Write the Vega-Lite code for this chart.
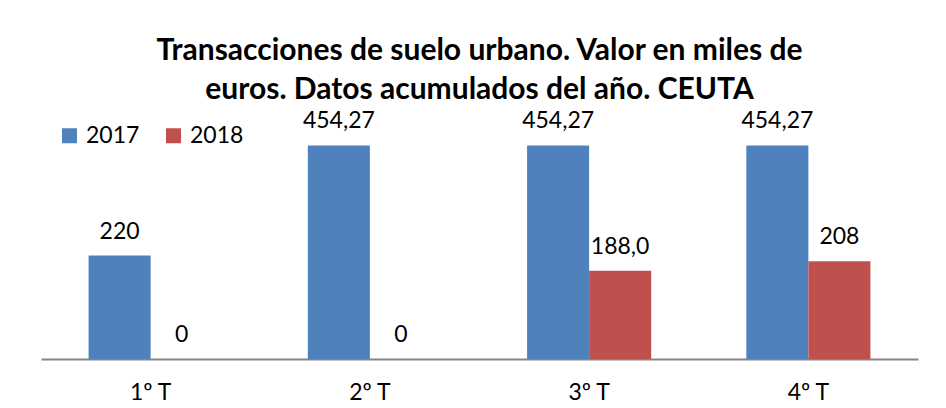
{
  "$schema": "https://vega.github.io/schema/vega-lite/v6.json",
  "autosize": "none",
  "width": 877,
  "height": 235,
  "padding": {"left": 41, "top": 124, "right": 28, "bottom": 49},
  "background": "white",
  "title": {
    "text": ["Transacciones de suelo urbano. Valor en miles de", "euros. Datos acumulados del año. CEUTA"],
    "font": "Lato",
    "fontSize": 30,
    "fontWeight": "bold",
    "lineHeight": 39,
    "color": "black",
    "anchor": "middle",
    "offset": 5
  },
  "data": {
    "values": [
      {"q": "1º T", "year": "2017", "value": 220, "label": "220"},
      {"q": "1º T", "year": "2018", "value": 0, "label": "0"},
      {"q": "2º T", "year": "2017", "value": 454.27, "label": "454,27"},
      {"q": "2º T", "year": "2018", "value": 0, "label": "0"},
      {"q": "3º T", "year": "2017", "value": 454.27, "label": "454,27"},
      {"q": "3º T", "year": "2018", "value": 188.0, "label": "188,0"},
      {"q": "4º T", "year": "2017", "value": 454.27, "label": "454,27"},
      {"q": "4º T", "year": "2018", "value": 208, "label": "208"}
    ]
  },
  "encoding": {
    "x": {
      "field": "q",
      "type": "nominal",
      "sort": ["1º T", "2º T", "3º T", "4º T"],
      "scale": {"paddingInner": 0.434, "paddingOuter": 0.217},
      "axis": {
        "title": null,
        "labelAngle": 0,
        "labelFont": "Lato",
        "labelFontSize": 23,
        "labelColor": "black",
        "labelPadding": 22,
        "ticks": false,
        "domainColor": "#868686",
        "domainWidth": 2,
        "grid": false
      }
    },
    "xOffset": {"field": "year", "type": "nominal", "scale": {"paddingInner": 0, "paddingOuter": 0}},
    "y": {
      "field": "value",
      "type": "quantitative",
      "scale": {"domain": [0, 500], "nice": false},
      "axis": null
    }
  },
  "layer": [
    {
      "mark": {"type": "bar"},
      "encoding": {
        "color": {
          "field": "year",
          "type": "nominal",
          "scale": {"domain": ["2017", "2018"], "range": ["#4F81BD", "#C0504D"]},
          "legend": {
            "title": null,
            "orient": "none",
            "direction": "horizontal",
            "legendX": 17,
            "legendY": 0,
            "symbolType": "square",
            "symbolSize": 225,
            "symbolStrokeWidth": 0,
            "labelFont": "Lato",
            "labelFontSize": 23,
            "labelColor": "black",
            "labelOffset": 5,
            "columnPadding": 22,
            "padding": 0
          }
        }
      }
    },
    {
      "mark": {"type": "text", "font": "Lato", "fontSize": 23, "color": "black", "baseline": "alphabetic", "dy": -17},
      "encoding": {"text": {"field": "label"}}
    }
  ],
  "config": {"view": {"stroke": null}}
}
